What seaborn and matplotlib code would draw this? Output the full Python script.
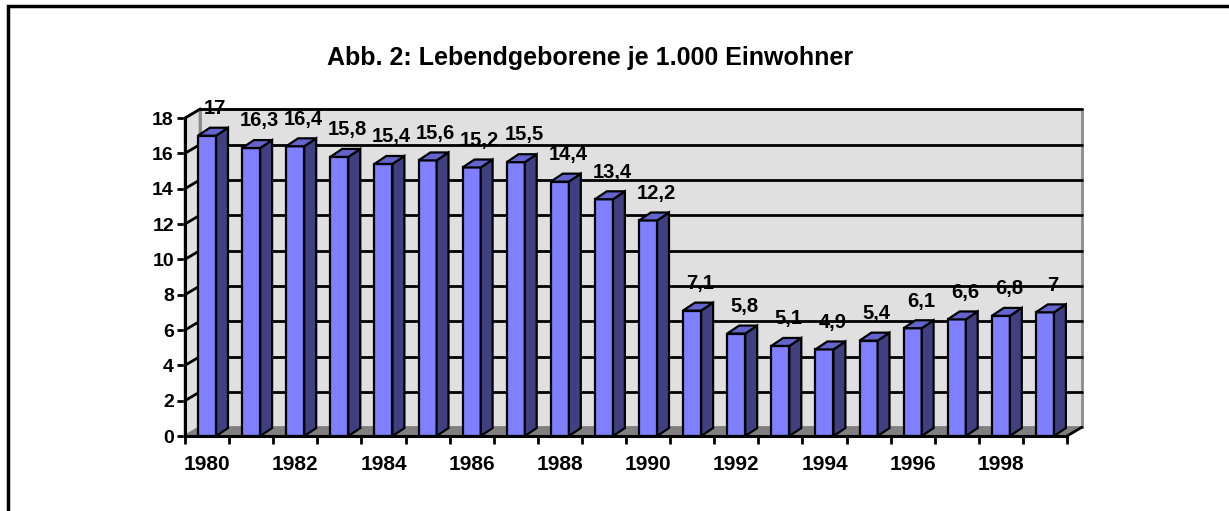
import numpy as np
import pandas as pd
import matplotlib
matplotlib.use("Agg")
import matplotlib.pyplot as plt
from matplotlib.patches import Polygon, Rectangle
import seaborn as sns

# ---- data ----
years = [str(y) for y in range(1980, 2000)]
births = [17, 16.3, 16.4, 15.8, 15.4, 15.6, 15.2, 15.5, 14.4, 13.4, 12.2,
          7.1, 5.8, 5.1, 4.9, 5.4, 6.1, 6.6, 6.8, 7]
yticks = list(range(0, 19, 2))
title = "Abb. 2: Lebendgeborene je 1.000 Einwohner"

sns.set_theme(style="white")
plt.rcParams['font.family'] = ['Liberation Sans', 'DejaVu Sans']
plt.rcParams['font.weight'] = 'bold'
plt.rcParams['text.color'] = 'black'
plt.rcParams['xtick.color'] = 'black'
plt.rcParams['ytick.color'] = 'black'
plt.rcParams['xtick.labelcolor'] = 'black'
plt.rcParams['ytick.labelcolor'] = 'black'

W, H = 1229, 511
fig = plt.figure(figsize=(W / 100, H / 100), dpi=100)
fig.patch.set_facecolor('white')

# figure frame (top and left visible)
fig.patches.append(Rectangle((8 / W, -0.05), 1.2, (505 / H) + 0.05, transform=fig.transFigure,
                             fill=False, edgecolor='black', linewidth=2.5, zorder=0))

ax = fig.add_axes([185 / W, 75 / H, 882 / W, 318 / H])
ax.set_facecolor('none')

df = pd.DataFrame({"Jahr": years, "Wert": births})
sns.barplot(data=df, x="Jahr", y="Wert", color="#8080FF", saturation=1,
            edgecolor="black", linewidth=1.6, width=0.41, ax=ax, zorder=5)
bars = [pp for pp in ax.patches]

ax.set_xlim(-0.5, 19.5)
ax.set_ylim(0, 18)

# 3D offsets (data units)
wdx, wdy = 0.34, 0.5     # wall depth
bdx, bdy = 0.27, 0.45    # bar depth
x0, x1 = -0.5, 19.5
ymax = 18

wall_c = "#E0E0E0"
floor_c = "#808080"
edge_c = "#8C8C8C"

# back wall
ax.add_patch(Polygon([(x0 + wdx, wdy), (x1 + wdx, wdy), (x1 + wdx, ymax + wdy), (x0 + wdx, ymax + wdy)],
                     closed=True, facecolor=wall_c, edgecolor=edge_c, linewidth=2, clip_on=False, zorder=1))
# left wall
ax.add_patch(Polygon([(x0, 0), (x0 + wdx, wdy), (x0 + wdx, ymax + wdy), (x0, ymax)],
                     closed=True, facecolor=wall_c, edgecolor=edge_c, linewidth=2, clip_on=False, zorder=1))
# floor
ax.add_patch(Polygon([(x0, 0), (x1, 0), (x1 + wdx, wdy), (x0 + wdx, wdy)],
                     closed=True, facecolor=floor_c, edgecolor=floor_c, linewidth=1, clip_on=False, zorder=1))
ax.plot([x1, x1 + wdx], [0, wdy], color='black', lw=2, clip_on=False, zorder=2)

# gridlines
for t in yticks[1:]:
    ax.plot([x0 + wdx, x1 + wdx], [t + wdy, t + wdy], color='black', lw=2, clip_on=False, zorder=2)
    ax.plot([x0, x0 + wdx], [t, t + wdy], color='black', lw=2, clip_on=False, zorder=2)

# 3D sides and tops of the bars
for p, v in zip(bars, births):
    bx, bw, bh = p.get_x(), p.get_width(), p.get_height()
    side = Polygon([(bx + bw, 0), (bx + bw + bdx, bdy), (bx + bw + bdx, bh + bdy), (bx + bw, bh)],
                   closed=True, facecolor="#404080", edgecolor="black", linewidth=1.6, zorder=5, clip_on=False)
    top = Polygon([(bx, bh), (bx + bw, bh), (bx + bw + bdx, bh + bdy), (bx + bdx, bh + bdy)],
                  closed=True, facecolor="#6464CC", edgecolor="black", linewidth=1.6, zorder=5, clip_on=False)
    ax.add_patch(side)
    ax.add_patch(top)
    lab = f"{v:g}".replace('.', ',')
    ax.annotate(lab, (bx + bw / 2 + bdx / 2 + 0.05, bh + bdy), xytext=(0, 7), textcoords='offset points',
                ha='center', va='bottom', fontsize=14.5, fontweight='bold', color='black',
                annotation_clip=False, zorder=6)

# axes styling
for s in ['top', 'right']:
    ax.spines[s].set_visible(False)
for s in ['left', 'bottom']:
    ax.spines[s].set_color('black')
    ax.spines[s].set_linewidth(2.2)
    ax.spines[s].set_zorder(7)

ax.set_yticks(yticks)
ax.set_yticklabels([str(t) for t in yticks], fontsize=14, fontweight='bold', color='black')
ax.set_xticks(np.arange(-0.5, 20, 1))
ax.set_xticklabels([])
ax.set_xticks(range(0, 20, 2), minor=True)
ax.set_xticklabels(years[::2], minor=True, fontsize=15, fontweight='bold', color='black')
ax.tick_params(axis='x', which='major', direction='out', length=6, width=2, color='black', bottom=True)
ax.tick_params(axis='x', which='minor', length=0, pad=14, bottom=True)
ax.tick_params(axis='y', direction='out', length=6, width=2, color='black', pad=2, left=True)
ax.set_xlabel("")
ax.set_ylabel("")
ax.grid(False)

fig.text(590 / W, 1 - 58 / H, title, ha='center', va='center', fontsize=18, fontweight='bold', color='black')

fig.savefig("out.png", dpi=100)
